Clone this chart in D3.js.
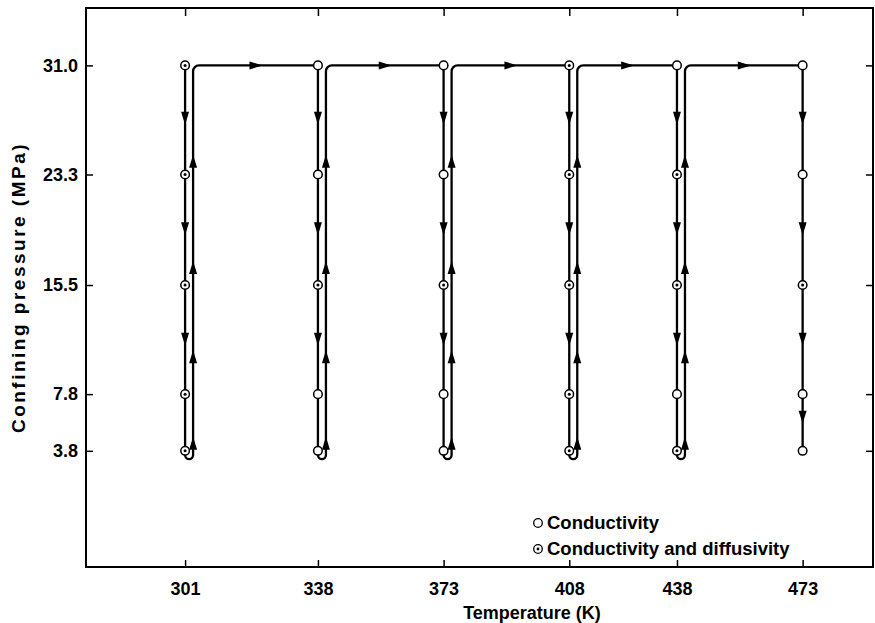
<!DOCTYPE html>
<html>
<head>
<meta charset="utf-8">
<script src="https://cdn.jsdelivr.net/npm/d3@7"></script>
<style>
  body { margin: 0; background: #fff; }
  svg { display: block; font-family: "Liberation Sans", Arial, sans-serif; }
  .axis text { font-size: 18px; font-weight: bold; fill: #000; }
  .axis line { stroke: #000; stroke-width: 1.5; }
  .lab { font-size: 18px; font-weight: bold; fill: #000; }
</style>
</head>
<body>
<div id="plot"></div>
<script>
// temperatures (K) visited, in order
const temps = [301, 338, 373, 408, 438, 473]
// confining pressures (MPa) at each temperature
const pressures = [31.0, 23.3, 15.5, 7.8, 3.8]
const tempTicks = ["301", "338", "373", "408", "438", "473"]
const pressTicks = ["31.0", "23.3", "15.5", "7.8", "3.8"]
// 1 = conductivity and diffusivity, 0 = conductivity only
const withDiffusivity = [
  [1, 1, 1, 1, 1],
  [0, 0, 1, 0, 0],
  [0, 0, 1, 0, 0],
  [1, 1, 1, 1, 1],
  [0, 1, 1, 0, 1],
  [0, 0, 1, 0, 0]
]
// where the direction arrows sit (MPa)
const downArrows = [27.3, 19.5, 11.7]
const downArrowsLast = [27.3, 19.5, 11.7, 6.2]
const upArrows = [24.2, 16.7, 10.4, 4.3]
const legendLabels = ["Conductivity", "Conductivity and diffusivity"]

const w = 875, h = 623,
    margin = {top: 8, right: 2, bottom: 56, left: 86},
    x = d3.scaleLinear()
      .domain([273.4, 492.6])
      .range([margin.left, w - margin.right]),
    y = d3.scaleLinear()
      .domain([-4.4, 35.05])
      .range([h - margin.bottom, margin.top]),
    upOffset = 8,   // px between the descending and ascending line
    r = 4.3

const svg = d3.select("#plot").append("svg")
  .attr("width", w)
  .attr("height", h)

// frame
svg.append("rect")
  .attr("x", margin.left)
  .attr("y", margin.top)
  .attr("width", w - margin.left - margin.right)
  .attr("height", h - margin.top - margin.bottom)
  .attr("fill", "none")
  .attr("stroke", "#000")
  .attr("stroke-width", 2)

// axes, ticks pointing inward
const xAxis = svg.append("g")
  .attr("class", "axis")
  .attr("transform", `translate(0, ${h - margin.bottom})`)
  .call(d3.axisBottom(x)
    .tickValues(temps)
    .tickFormat((d, i) => tempTicks[i])
    .tickSizeInner(-7)
    .tickSizeOuter(0)
    .tickPadding(15))
xAxis.select(".domain").remove()

const xTop = svg.append("g")
  .attr("class", "axis")
  .attr("transform", `translate(0, ${margin.top})`)
  .call(d3.axisTop(x)
    .tickValues(temps)
    .tickSizeInner(-8)
    .tickSizeOuter(0)
    .tickFormat(""))
xTop.select(".domain").remove()

const yAxis = svg.append("g")
  .attr("class", "axis")
  .attr("transform", `translate(${margin.left}, 0)`)
  .call(d3.axisLeft(y)
    .tickValues(pressures)
    .tickFormat((d, i) => pressTicks[i])
    .tickSizeInner(-7)
    .tickSizeOuter(0)
    .tickPadding(8))
yAxis.select(".domain").remove()

const yRight = svg.append("g")
  .attr("class", "axis")
  .attr("transform", `translate(${w - margin.right}, 0)`)
  .call(d3.axisRight(y)
    .tickValues(pressures)
    .tickSizeInner(-7)
    .tickSizeOuter(0)
    .tickFormat(""))
yRight.select(".domain").remove()

// axis titles
svg.append("text")
  .attr("class", "lab")
  .attr("x", 532)
  .attr("y", 619)
  .style("text-anchor", "middle")
  .text("Temperature (K)")

svg.append("text")
  .attr("class", "lab")
  .attr("transform", `translate(25, ${(margin.top + h - margin.bottom) / 2}) rotate(-90)`)
  .style("text-anchor", "middle")
  .style("font-size", "19px")
  .style("letter-spacing", "2.5px")
  .text("Confining pressure (MPa)")

// measurement path
const pTop = d3.max(pressures), pBot = d3.min(pressures)
const yt = y(pTop), yb = y(pBot)
const path = d3.path()
temps.forEach((t, i) => {
  const x0 = x(t), xu = x0 + upOffset
  path.moveTo(x0, yt)
  if (i === temps.length - 1) {
    path.lineTo(x0, yb)
    return
  }
  path.lineTo(x0, yb + r)
  path.arc(x0 + upOffset / 2, yb + r, upOffset / 2, Math.PI, 0, true)
  path.lineTo(xu, yt + 6)
  path.arcTo(xu, yt, xu + 6, yt, 6)
  path.lineTo(x(temps[i + 1]) - r, yt)
})

const lineLayer = svg.append("g").attr("id", "lines")
lineLayer.append("path")
  .attr("d", path.toString())
  .attr("fill", "none")
  .attr("stroke", "#000")
  .attr("stroke-width", 2.3)

// arrowheads
const arrow = "M0,-7L4,6L-4,6Z"   // points up
const arrowLayer = svg.append("g").attr("id", "arrows")
temps.forEach((t, i) => {
  const downs = i === temps.length - 1 ? downArrowsLast : downArrows
  downs.forEach(p => {
    arrowLayer.append("path")
      .attr("d", arrow)
      .attr("transform", `translate(${x(t)}, ${y(p)}) rotate(180)`)
  })
  if (i < temps.length - 1) {
    upArrows.forEach(p => {
      arrowLayer.append("path")
        .attr("d", arrow)
        .attr("transform", `translate(${x(t) + upOffset}, ${y(p)})`)
    })
    const mid = (x(t) + upOffset + x(temps[i + 1])) / 2
    arrowLayer.append("path")
      .attr("d", arrow)
      .attr("transform", `translate(${mid}, ${yt}) rotate(90)`)
  }
})

// markers
const markerLayer = svg.append("g").attr("id", "markers")
temps.forEach((t, i) => {
  pressures.forEach((p, j) => {
    markerLayer.append("circle")
      .attr("cx", x(t))
      .attr("cy", y(p))
      .attr("r", r)
      .attr("fill", "#fff")
      .attr("stroke", "#000")
      .attr("stroke-width", 1.5)
    if (withDiffusivity[i][j]) {
      markerLayer.append("circle")
        .attr("cx", x(t))
        .attr("cy", y(p))
        .attr("r", 1.5)
        .attr("fill", "#000")
    }
  })
})

// legend
const legend = svg.append("g").attr("transform", "translate(538, 523)")
legendLabels.forEach((lab, i) => {
  const row = legend.append("g").attr("transform", `translate(0, ${i * 26})`)
  row.append("circle")
    .attr("r", r)
    .attr("fill", "#fff")
    .attr("stroke", "#000")
    .attr("stroke-width", 1.3)
  if (i === 1) {
    row.append("circle").attr("r", 1.4).attr("fill", "#000")
  }
  row.append("text")
    .attr("class", "lab")
    .attr("x", 9)
    .attr("y", 6)
    .style("font-size", "18.5px")
    .text(lab)
})
</script>
</body>
</html>
